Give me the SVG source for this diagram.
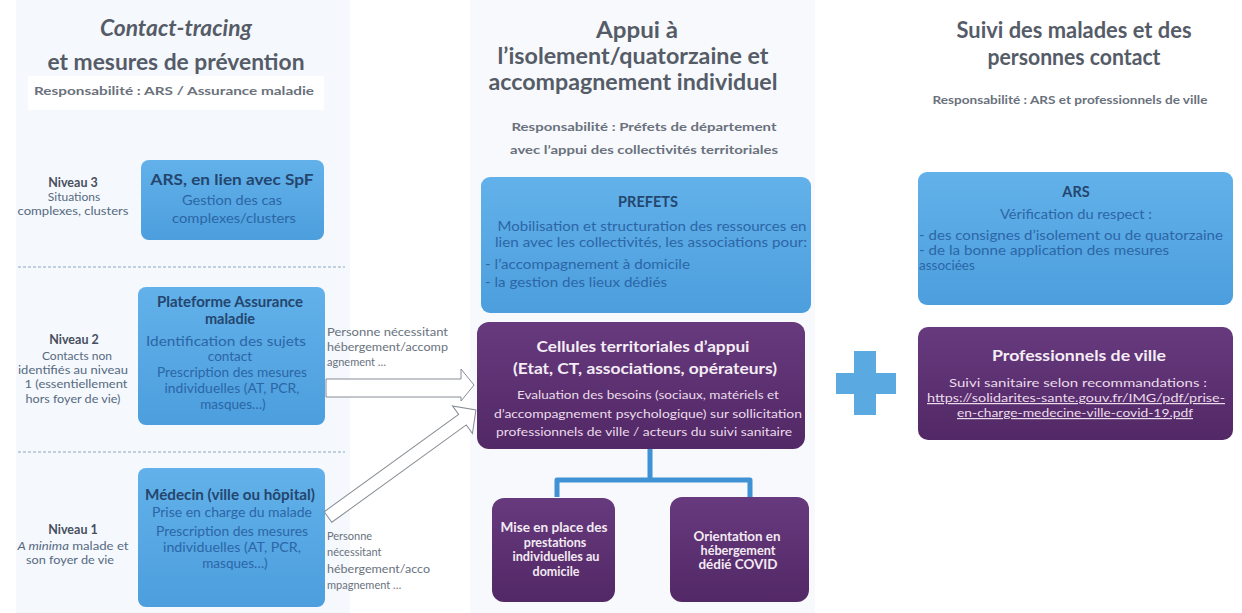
<svg xmlns="http://www.w3.org/2000/svg" width="1242" height="613" viewBox="0 0 1242 613">
  <defs>
    <linearGradient id="gBlue" x1="0" y1="0" x2="0" y2="1">
      <stop offset="0" stop-color="#62b1ea"/>
      <stop offset="1" stop-color="#4c9edd"/>
    </linearGradient>
    <linearGradient id="gPurple" x1="0" y1="0" x2="0" y2="1">
      <stop offset="0" stop-color="#663a7d"/>
      <stop offset="1" stop-color="#532866"/>
    </linearGradient>
    <style>
      text { font-family: Lato, "Open Sans", "Liberation Sans", sans-serif; }
      .head { font-weight: 700; font-size: 22px; fill: #555c68; text-anchor: middle; }
      .resp { font-weight: 700; font-size: 12px; fill: #6a717c; text-anchor: middle; }
      .lvl { font-weight: 700; font-size: 12.5px; fill: #474f5e; text-anchor: middle; }
      .lvlsub { font-size: 12px; fill: #556a82; text-anchor: middle; }
      .bbox { fill: url(#gBlue); }
      .pbox { fill: url(#gPurple); }
      .btitle { font-weight: 700; font-size: 14.5px; fill: #24466e; text-anchor: middle; }
      .btxt { font-size: 13.5px; fill: #2c66a6; text-anchor: middle; }
      .btxtl { font-size: 13.5px; fill: #2c66a6; }
      .ptitle { font-weight: 700; font-size: 16px; fill: #f5edf5; text-anchor: middle; }
      .ptxt { font-size: 12px; fill: #eadcea; text-anchor: middle; }
      .psmall { font-weight: 700; font-size: 12.5px; fill: #f3eaf3; text-anchor: middle; }
      .alabel { font-size: 11px; fill: #69727e; }
      .dash { stroke: #8ea6c2; stroke-width: 1.2; stroke-dasharray: 3 2; fill: none; }
      .barrow { fill: #ffffff; stroke: #868c94; stroke-width: 1; }
      .link { fill: none; stroke: #3f92d4; stroke-width: 5; stroke-linejoin: round; }
    </style>
  </defs>

  <rect width="1242" height="613" fill="#ffffff"/>

  <!-- column backdrops -->
  <rect x="16" y="0" width="334" height="613" fill="#f5f8fc"/>
  <rect x="28" y="76" width="296" height="34" fill="#ffffff"/>
  <rect x="470" y="0" width="345" height="613" fill="#f7f9fc"/>

  <!-- column 1 header -->
  <g id="header-contact">
    <text class="head" x="176" y="36" font-style="italic" font-size="21" textLength="152" lengthAdjust="spacingAndGlyphs">Contact-tracing</text>
    <text class="head" x="176" y="70" font-size="21" textLength="257" lengthAdjust="spacingAndGlyphs">et mesures de prévention</text>
    <text class="resp" x="174" y="95" textLength="280" lengthAdjust="spacingAndGlyphs">Responsabilité : ARS / Assurance maladie</text>
  </g>

  <!-- column 2 header -->
  <g id="header-appui">
    <text class="head" x="637" y="38" textLength="82" lengthAdjust="spacingAndGlyphs">Appui à</text>
    <text class="head" x="633" y="64" textLength="271" lengthAdjust="spacingAndGlyphs">l’isolement/quatorzaine et</text>
    <text class="head" x="633" y="90" textLength="289" lengthAdjust="spacingAndGlyphs">accompagnement individuel</text>
    <text class="resp" x="644" y="131" textLength="265" lengthAdjust="spacingAndGlyphs">Responsabilité : Préfets de département</text>
    <text class="resp" x="644" y="154" textLength="268" lengthAdjust="spacingAndGlyphs">avec l’appui des collectivités territoriales</text>
  </g>

  <!-- column 3 header -->
  <g id="header-suivi">
    <text class="head" x="1074" y="38" font-size="19" textLength="235" lengthAdjust="spacingAndGlyphs">Suivi des malades et des</text>
    <text class="head" x="1074" y="65" font-size="19" textLength="173" lengthAdjust="spacingAndGlyphs">personnes contact</text>
    <text class="resp" x="1070" y="104" font-size="11" textLength="275" lengthAdjust="spacingAndGlyphs">Responsabilité : ARS et professionnels de ville</text>
  </g>

  <!-- level separators -->
  <line class="dash" x1="18" y1="267" x2="345" y2="267"/>
  <line class="dash" x1="18" y1="452" x2="345" y2="452"/>

  <!-- level labels -->
  <g id="niveau-3">
    <text class="lvl" x="73" y="187">Niveau 3</text>
    <text class="lvlsub" x="74" y="201">Situations</text>
    <text class="lvlsub" x="73" y="215" textLength="111" lengthAdjust="spacingAndGlyphs">complexes, clusters</text>
  </g>
  <g id="niveau-2">
    <text class="lvl" x="74" y="344">Niveau 2</text>
    <text class="lvlsub" x="77" y="360">Contacts non</text>
    <text class="lvlsub" x="73" y="374" textLength="110" lengthAdjust="spacingAndGlyphs">identifiés au niveau</text>
    <text class="lvlsub" x="76" y="388" textLength="103" lengthAdjust="spacingAndGlyphs">1 (essentiellement</text>
    <text class="lvlsub" x="73" y="403" textLength="95" lengthAdjust="spacingAndGlyphs">hors foyer de vie)</text>
  </g>
  <g id="niveau-1">
    <text class="lvl" x="73" y="534">Niveau 1</text>
    <text class="lvlsub" x="73" y="550" textLength="111" lengthAdjust="spacingAndGlyphs"><tspan font-style="italic">A minima</tspan> malade et</text>
    <text class="lvlsub" x="70" y="564" textLength="88" lengthAdjust="spacingAndGlyphs">son foyer de vie</text>
  </g>

  <!-- column 1 nodes -->
  <g id="ars-spf">
    <rect class="bbox" x="141" y="160" width="183" height="80" rx="8"/>
    <text class="btitle" x="232" y="185" font-size="15" textLength="163" lengthAdjust="spacingAndGlyphs">ARS, en lien avec SpF</text>
    <text class="btxt" x="232" y="205" textLength="100" lengthAdjust="spacingAndGlyphs">Gestion des cas</text>
    <text class="btxt" x="234" y="223" textLength="124" lengthAdjust="spacingAndGlyphs">complexes/clusters</text>
  </g>
  <g id="plateforme">
    <rect class="bbox" x="138" y="287" width="187" height="138" rx="8"/>
    <text class="btitle" x="230" y="307" textLength="146" lengthAdjust="spacingAndGlyphs">Plateforme Assurance</text>
    <text class="btitle" x="230" y="324">maladie</text>
    <text class="btxt" x="226" y="346" textLength="160" lengthAdjust="spacingAndGlyphs">Identification des sujets</text>
    <text class="btxt" x="230" y="361">contact</text>
    <text class="btxt" x="232" y="377" textLength="150" lengthAdjust="spacingAndGlyphs">Prescription des mesures</text>
    <text class="btxt" x="232" y="393" textLength="135" lengthAdjust="spacingAndGlyphs">individuelles (AT, PCR,</text>
    <text class="btxt" x="233" y="409">masques…)</text>
  </g>
  <g id="medecin">
    <rect class="bbox" x="138" y="468" width="187" height="139" rx="8"/>
    <text class="btitle" x="230" y="500" textLength="170" lengthAdjust="spacingAndGlyphs">Médecin (ville ou hôpital)</text>
    <text class="btxt" x="232" y="517" textLength="160" lengthAdjust="spacingAndGlyphs">Prise en charge du malade</text>
    <text class="btxt" x="232" y="536" textLength="152" lengthAdjust="spacingAndGlyphs">Prescription des mesures</text>
    <text class="btxt" x="232" y="552" textLength="138" lengthAdjust="spacingAndGlyphs">individuelles (AT, PCR,</text>
    <text class="btxt" x="235" y="568">masques…)</text>
  </g>

  <!-- column 2 nodes -->
  <g id="prefets">
    <rect class="bbox" x="481" y="177" width="330" height="136" rx="9"/>
    <text class="btitle" x="648" y="207" font-size="13.5">PREFETS</text>
    <text class="btxt" x="652" y="231" textLength="309" lengthAdjust="spacingAndGlyphs">Mobilisation et structuration des ressources en</text>
    <text class="btxt" x="651" y="247" textLength="312" lengthAdjust="spacingAndGlyphs">lien avec les collectivités, les associations pour:</text>
    <text class="btxtl" x="485" y="269" textLength="205" lengthAdjust="spacingAndGlyphs">- l’accompagnement  à domicile</text>
    <text class="btxtl" x="485" y="287" textLength="182" lengthAdjust="spacingAndGlyphs">- la gestion des lieux dédiés</text>
  </g>
  <g id="cellules">
    <rect class="pbox" x="477" y="322" width="328" height="127" rx="12"/>
    <text class="ptitle" x="643" y="352" textLength="213" lengthAdjust="spacingAndGlyphs">Cellules territoriales d’appui</text>
    <text class="ptitle" x="645" y="374" textLength="264" lengthAdjust="spacingAndGlyphs">(Etat, CT, associations, opérateurs)</text>
    <text class="ptxt" x="648" y="399" textLength="262" lengthAdjust="spacingAndGlyphs">Evaluation des besoins (sociaux, matériels et</text>
    <text class="ptxt" x="648" y="418" textLength="308" lengthAdjust="spacingAndGlyphs">d’accompagnement psychologique) sur sollicitation</text>
    <text class="ptxt" x="644" y="436" textLength="296" lengthAdjust="spacingAndGlyphs">professionnels de ville / acteurs du suivi sanitaire</text>
  </g>
  <g id="prestations">
    <rect class="pbox" x="492" y="498" width="123" height="104" rx="12"/>
    <text class="psmall" x="554" y="532" textLength="107" lengthAdjust="spacingAndGlyphs">Mise en place des</text>
    <text class="psmall" x="555" y="547">prestations</text>
    <text class="psmall" x="556" y="561" textLength="87" lengthAdjust="spacingAndGlyphs">individuelles au</text>
    <text class="psmall" x="556" y="576">domicile</text>
  </g>
  <g id="hebergement">
    <rect class="pbox" x="670" y="497" width="139" height="105" rx="12"/>
    <text class="psmall" x="737" y="541" textLength="87" lengthAdjust="spacingAndGlyphs">Orientation en</text>
    <text class="psmall" x="738" y="555" textLength="75" lengthAdjust="spacingAndGlyphs">hébergement</text>
    <text class="psmall" x="738" y="569" textLength="79" lengthAdjust="spacingAndGlyphs">dédié COVID</text>
  </g>

  <!-- column 3 nodes -->
  <g id="ars-suivi">
    <rect class="bbox" x="918" y="172" width="315" height="133" rx="9"/>
    <text class="btitle" x="1076" y="197">ARS</text>
    <text class="btxt" x="1076" y="219" textLength="152" lengthAdjust="spacingAndGlyphs">Vérification du respect :</text>
    <text class="btxtl" x="919" y="240" textLength="304" lengthAdjust="spacingAndGlyphs">- des consignes d’isolement ou de quatorzaine</text>
    <text class="btxtl" x="919" y="255" textLength="250" lengthAdjust="spacingAndGlyphs">- de la bonne  application des mesures</text>
    <text class="btxtl" x="919" y="270">associées</text>
  </g>
  <g id="pro-ville">
    <rect class="pbox" x="918" y="327" width="315" height="113" rx="10"/>
    <text class="ptitle" x="1079" y="361" font-size="17" textLength="174" lengthAdjust="spacingAndGlyphs">Professionnels de ville</text>
    <text class="ptxt" x="1078" y="387" textLength="258" lengthAdjust="spacingAndGlyphs">Suivi sanitaire selon recommandations :</text>
    <text class="ptxt" x="1076" y="402" text-decoration="underline" textLength="298" lengthAdjust="spacingAndGlyphs">https://solidarites-sante.gouv.fr/IMG/pdf/prise-</text>
    <text class="ptxt" x="1075" y="417" text-decoration="underline" textLength="236" lengthAdjust="spacingAndGlyphs">en-charge-medecine-ville-covid-19.pdf</text>
  </g>

  <!-- plus sign between columns 2 and 3 -->
  <g id="plus" fill="#5aa9e0">
    <rect x="854" y="351" width="22" height="64"/>
    <rect x="836" y="373" width="60" height="21"/>
  </g>

  <!-- connectors -->
  <g id="connectors">
    <polygon class="barrow" points="326,379 461,379 461,369 474,385 461,401 461,397 326,397"/>
    <polygon class="barrow" transform="translate(328,517) rotate(-35.9)" points="0,-6.5 166,-6.5 166,-17 182.6,0 166,17 166,6.5 0,6.5"/>
    <path class="link" d="M650,449 V480 M557,497 V480 H750 V497"/>
    <text class="alabel" x="327" y="336" textLength="121" lengthAdjust="spacingAndGlyphs">Personne nécessitant</text>
    <text class="alabel" x="327" y="351" textLength="121" lengthAdjust="spacingAndGlyphs">hébergement/accomp</text>
    <text class="alabel" x="327" y="366">agnement …</text>
    <text class="alabel" x="327" y="540">Personne</text>
    <text class="alabel" x="327" y="556">nécessitant</text>
    <text class="alabel" x="327" y="573" textLength="103" lengthAdjust="spacingAndGlyphs">hébergement/acco</text>
    <text class="alabel" x="327" y="589">mpagnement …</text>
  </g>
</svg>
